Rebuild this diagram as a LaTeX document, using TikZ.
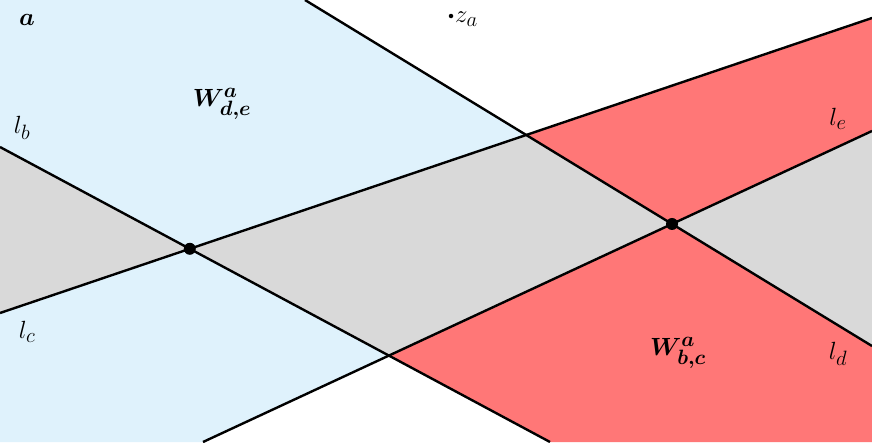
\documentclass[tikz,border=0pt]{standalone}
\usepackage{amsmath}
\begin{document}
\begin{tikzpicture}[x=1pt,y=-1pt,
  ln/.style={line width=2.4pt,black},
  bigdot/.style={circle,fill=black,inner sep=0pt,minimum size=12pt},
  smalldot/.style={circle,fill=black,inner sep=0pt,minimum size=4.5pt},
  lbl/.style={inner sep=0pt,font=\fontsize{30}{34}\selectfont}]
\definecolor{cblue}{RGB}{223,242,252}
\definecolor{cgray}{RGB}{217,217,217}
\definecolor{cred}{RGB}{255,119,119}
\useasboundingbox (0,0) rectangle (872,442);
% line end points
\coordinate (b1) at (0,147);   \coordinate (b2) at (550,442);
\coordinate (c1) at (0,313);   \coordinate (c2) at (872,18);
\coordinate (d1) at (305,0);   \coordinate (d2) at (872,346);
\coordinate (e1) at (203,442); \coordinate (e2) at (872,131);
% intersections
\coordinate (P1) at (intersection of b1--b2 and c1--c2);
\coordinate (P2) at (intersection of c1--c2 and d1--d2);
\coordinate (P3) at (intersection of d1--d2 and e1--e2);
\coordinate (P4) at (intersection of b1--b2 and e1--e2);
% regions
\fill[cblue] (0,0) -- (d1) -- (P2) -- (P1) -- (b1) -- cycle;
\fill[cblue] (c1) -- (P1) -- (P4) -- (e1) -- (0,442) -- cycle;
\fill[cgray] (b1) -- (P1) -- (c1) -- cycle;
\fill[cgray] (P1) -- (P2) -- (P3) -- (P4) -- cycle;
\fill[cgray] (e2) -- (P3) -- (d2) -- cycle;
\fill[cred] (P2) -- (c2) -- (e2) -- (P3) -- cycle;
\fill[cred] (P4) -- (P3) -- (d2) -- (872,442) -- (b2) -- cycle;
% lines
\draw[ln] (b1) -- (b2);
\draw[ln] (c1) -- (c2);
\draw[ln] (d1) -- (d2);
\draw[ln] (e1) -- (e2);
\node[bigdot] (n1) at (P1) {};
\node[bigdot] (n2) at (P3) {};
\node[smalldot] (za) at (451,16) {};
% labels
\node[lbl,anchor=west] (zal) at (455,19) {$z_a$};
\node[lbl] (labA) at (27,20) {$\boldsymbol{a}$};
\node[lbl] (Wde) at (222,104) {$\boldsymbol{W^{a}_{d,e}}$};
\node[lbl] (Wbc) at (678,353) {$\boldsymbol{W^{a}_{b,c}}$};
\node[lbl] (lb) at (22,128) {$l_b$};
\node[lbl] (lc) at (27,332) {$l_c$};
\node[lbl] (le) at (838,119) {$l_e$};
\node[lbl] (ld) at (838,354) {$l_d$};
\end{tikzpicture}
\end{document}
